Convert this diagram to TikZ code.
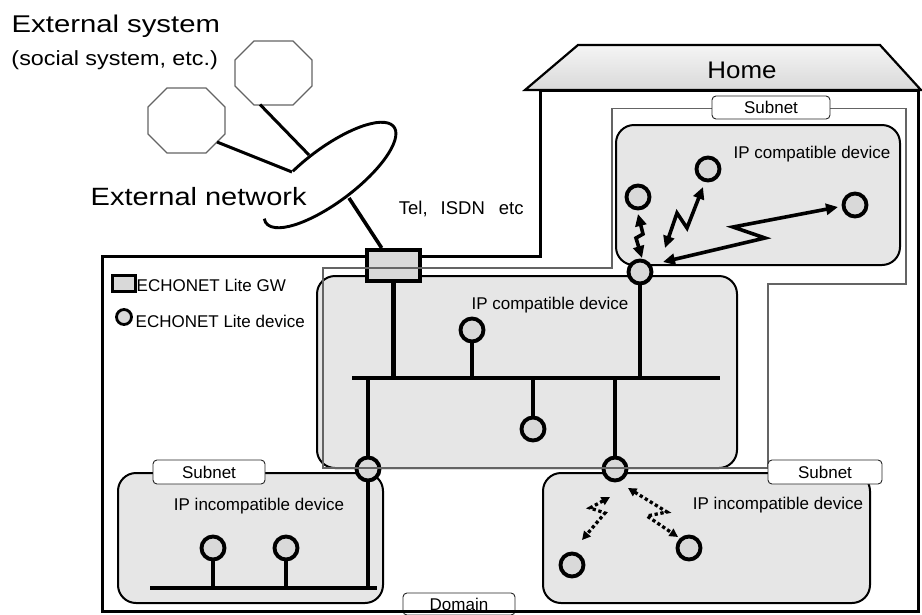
\documentclass[tikz,border=0pt]{standalone}
\usepackage{fontspec}
\setmainfont{Liberation Sans}
\usetikzlibrary{arrows.meta,calc}
\definecolor{boxfill}{RGB}{230,230,230}
\definecolor{devfill}{RGB}{217,217,217}
\definecolor{thingray}{RGB}{100,100,100}
\pgfdeclarelayer{boxlayer}
\pgfdeclarelayer{wirelayer}
\pgfsetlayers{boxlayer,wirelayer,main}
\tikzset{
  fs/.style={font=\fontsize{17}{20}\selectfont},
  ipbox/.style={draw=black, line width=2pt, fill=boxfill, rounded corners=18pt, inner sep=0pt},
  dev/.style={circle, draw=black, line width=3.9pt, fill=devfill, minimum size=23pt, inner sep=0pt},
  gwbox/.style={draw=black, line width=4pt, fill=devfill, minimum width=53pt, minimum height=31pt, inner sep=0pt},
  wire/.style={line width=4.3pt},
  extwire/.style={line width=3pt},
  domline/.style={line width=3pt, line join=miter},
  sublabel/.style={draw=black!85, line width=0.9pt, fill=white, rounded corners=4pt, inner sep=0pt, fs},
  subline/.style={draw=thingray, line width=1.2pt},
  zig/.style={line width=3.6pt, line join=miter, {Triangle[length=12pt,width=11pt]}-{Triangle[length=12pt,width=11pt]}},
  dzig/.style={line width=3.3pt, dash pattern=on 3.3pt off 2.6pt, {Triangle[length=8.5pt,width=8.5pt]}-{Triangle[length=8.5pt,width=8.5pt]}},
  octo/.style={draw=thingray, line width=1.1pt, fill=white},
}
\begin{document}
\begin{tikzpicture}[x=1pt,y=-1pt]
\useasboundingbox (0,0) rectangle (922,614);

% ---------- headings ----------
\node[anchor=base west, inner sep=0pt, font=\fontsize{24.2}{28}\selectfont] (extsys) at (11.5,32.5) {\scalebox{1.21}[1]{External system}};
\node[anchor=base west, inner sep=0pt, font=\fontsize{20.5}{24}\selectfont] (social) at (11.3,65) {\scalebox{1.14}[1]{(social system, etc.)}};
\node[anchor=base west, inner sep=0pt, font=\fontsize{25}{29}\selectfont] (extnet) at (90.5,205.5) {\scalebox{1.16}[1]{External network}};

% ---------- octagons (external systems) ----------
\draw[octo] (254,41) -- (293,41) -- (312,60) -- (312,86) -- (293,105) -- (254,105) -- (235,86) -- (235,60) -- cycle;
\draw[octo] (167,88) -- (206,88) -- (225,107) -- (225,134) -- (206,153) -- (167,153) -- (148,134) -- (148,107) -- cycle;
\coordinate (o1p) at (260,104.5);
\coordinate (o2p) at (217,142);

% ---------- external network (open ellipse) ----------
\begin{scope}[shift={(330,175)}, rotate=37]
  \draw[line width=2.9pt] (250:80 and 27) arc[start angle=250, end angle=550, x radius=80, y radius=27];
\end{scope}
\coordinate (e1) at (309,155);
\coordinate (e2) at (292,172);
\coordinate (e3) at (349,198);
\draw[extwire] (o1p) -- (e1);
\draw[extwire] (o2p) -- (e2);

% ---------- house roof ----------
\draw[line width=2.2pt, line join=miter, top color=gray!8, bottom color=gray!30] (525,90) -- (578,45) -- (880,45) -- (921,90) -- cycle;
\node[anchor=base, inner sep=0pt, font=\fontsize{24}{28}\selectfont] (home) at (742,78) {\scalebox{1.08}[1]{Home}};

% ---------- domain label and outline ----------
\node[sublabel, minimum width=112pt, minimum height=22pt] (domlab) at (459,604) {Domain};
\draw[domline] (102,256) -- (540,256) -- (540,90) -- (918,90) -- (918,611) -- (102,611) -- cycle;

\node[anchor=base west, inner sep=0pt, font=\fontsize{18.5}{22}\selectfont] (tel) at (398.7,214) {Tel,\hspace{13pt}ISDN\hspace{14pt}etc};

% ---------- legend ----------
\node[draw, line width=2.8pt, fill=devfill, minimum width=23pt, minimum height=16pt, inner sep=0pt] (lgw) at (124,283.5) {};
\node[anchor=base west, inner sep=0pt, fs] (lgwtxt) at (136.5,291.5) {ECHONET Lite GW};
\node[circle, draw, line width=2.8pt, fill=devfill, minimum size=15pt, inner sep=0pt] (ldev) at (124,317) {};
\node[anchor=base west, inner sep=0pt, fs] (ldevtxt) at (135.5,327) {ECHONET Lite device};

% ---------- device areas ----------
\begin{pgfonlayer}{boxlayer}
\node[ipbox, minimum width=420pt, minimum height=192pt] (mainbox) at (527,372) {};
\node[ipbox, minimum width=284pt, minimum height=140pt] (trbox) at (758,195) {};
\node[ipbox, minimum width=265pt, minimum height=130pt] (blbox) at (250.5,538) {};
\node[ipbox, minimum width=327pt, minimum height=130pt] (brbox) at (706.5,538) {};
\end{pgfonlayer}

\node[anchor=base, inner sep=0pt, fs] (maintxt) at (550,309) {IP compatible device};
\node[anchor=base, inner sep=0pt, fs] (trtxt) at (812,158) {IP compatible device};
\node[anchor=base, inner sep=0pt, fs] (bltxt) at (259,510) {IP incompatible device};
\node[anchor=base, inner sep=0pt, fs] (brtxt) at (778,509) {IP incompatible device};

% ---------- wired network ----------
\coordinate (busL) at (352,378);
\coordinate (busR) at (720,378);
\coordinate (blL) at (150,588);
\coordinate (blR) at (377,588);

\node[gwbox] (gw) at (393.5,265.5) {};

\node[dev] (d1) at (472,330) {};
\node[dev] (d2) at (533,429) {};
\node[dev] (hL) at (368,469) {};
\node[dev] (hR) at (615,469) {};
\node[dev] (hT) at (640,272) {};
\node[dev] (b1) at (213,548) {};
\node[dev] (b2) at (286,548) {};
\node[dev] (t1) at (638,197) {};
\node[dev] (t2) at (708,169) {};
\node[dev] (t3) at (855,205) {};
\node[dev] (r1) at (572,565) {};
\node[dev] (r2) at (689,548) {};

\begin{pgfonlayer}{wirelayer}
\draw[line width=3.6pt] (e3) -- (gw.124);
\draw[wire] (busL) -- (busR);
\draw[wire] (gw) -- (gw |- busL);
\draw[wire] (d1) -- (d1 |- busL);
\draw[wire] (d2) -- (d2 |- busL);
\draw[wire] (hL |- busL) -- (hL);
\draw[wire] (hR |- busL) -- (hR);
\draw[wire] (hT) -- (hT |- busL);
\draw[wire] (blL) -- (blR);
\draw[wire] (hL) -- (hL |- blL);
\draw[wire] (b1) -- (b1 |- blL);
\draw[wire] (b2) -- (b2 |- blL);
\end{pgfonlayer}

% ---------- wireless links ----------
\coordinate (aA1) at (638,214);
\coordinate (aA2) at (642,258);
\coordinate (aB1) at (703,187);
\coordinate (aB2) at (665,248);
\coordinate (aC1) at (838,207);
\coordinate (aC2) at (663,262);
\draw[zig] (aA1) -- (643,234) -- (636,238) -- (aA2);
\draw[zig] (aB1) -- (687,228) -- (677,213) -- (aB2);
\draw[zig] (aC1) -- (733,227) -- (765,238) -- (aC2);

\coordinate (aD1) at (610,497);
\coordinate (aD2) at (582,540);
\coordinate (aE1) at (628,488);
\coordinate (aE2) at (678,537);
\draw[dzig] (aD1) -- (590,508) -- (605,513) -- (aD2);
\draw[dzig] (aE1) -- (667,512) -- (647,516) -- (aE2);

% ---------- subnet outline and labels ----------
\draw[subline] (323,268) -- (612,268) -- (612,108.5) -- (906,108.5) -- (906,284) -- (768,284) -- (768,468) -- (323,468) -- cycle;
\node[sublabel, minimum width=118pt, minimum height=23pt] (sl1) at (771,107.5) {Subnet};
\node[sublabel, minimum width=112pt, minimum height=24pt] (sl2) at (209,472) {Subnet};
\node[sublabel, minimum width=114pt, minimum height=24pt] (sl3) at (825,472) {Subnet};
\end{tikzpicture}
\end{document}
